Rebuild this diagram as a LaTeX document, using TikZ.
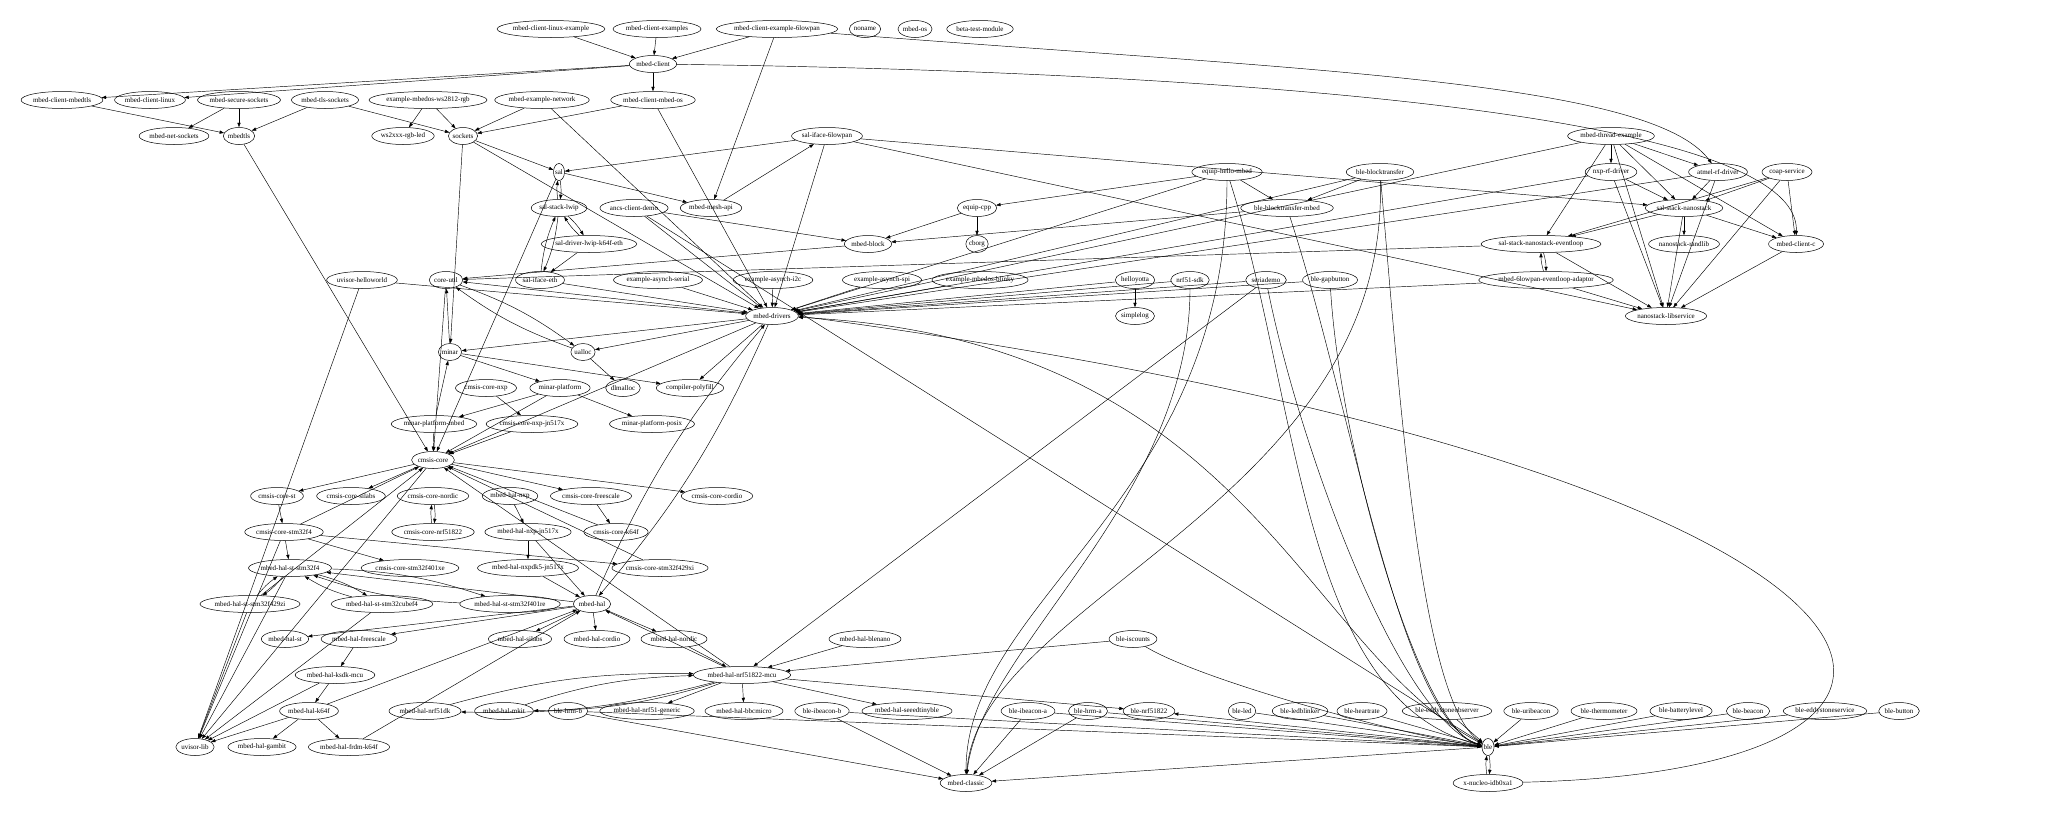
\documentclass[tikz,border=0pt]{standalone}
\usepackage{fontspec}
\setmainfont{Liberation Serif}
\usetikzlibrary{shapes.geometric,arrows.meta}
\begin{document}
\begin{tikzpicture}[x=1pt,y=-1pt,
 n/.style={draw,ellipse,inner xsep=0pt,inner ysep=0pt,minimum height=17pt,font=\fontsize{7}{8}\selectfont,line width=0.5pt},
 e/.style={-{Triangle[length=4.5pt,width=3.2pt]},line width=0.45pt}]
\useasboundingbox (0,0) rectangle (2048,812);
\fill[white] (0,0) rectangle (2048,812);
\node[n] (mcle) at (551,29) {mbed-client-linux-example};
\node[n] (mces) at (657,29) {mbed-client-examples};
\node[n] (mce6) at (777,29) {mbed-client-example-6lowpan};
\node[n] (noname) at (865,29) {noname};
\node[n] (mbedos) at (915,29) {mbed-os};
\node[n] (beta) at (980,29) {beta-test-module};
\node[n] (mc) at (653,64) {mbed-client};
\node[n] (mcmt) at (62,100) {mbed-client-mbedtls};
\node[n] (mcl) at (150,100) {mbed-client-linux};
\node[n] (mss) at (239,100) {mbed-secure-sockets};
\node[n] (mts) at (325,100) {mbed-tls-sockets};
\node[n] (ws) at (428,100) {example-mbedos-ws2812-rgb};
\node[n] (men) at (542,100) {mbed-example-network};
\node[n] (mcmo) at (653,100) {mbed-client-mbed-os};
\node[n] (mns) at (174,136) {mbed-net-sockets};
\node[n] (mbedtls) at (239,136) {mbedtls};
\node[n] (wsled) at (403,136) {ws2xxx-rgb-led};
\node[n] (sockets) at (463,136) {sockets};
\node[n] (si6) at (827,136) {sal-iface-6lowpan};
\node[n] (mte) at (1611,136) {mbed-thread-example};
\node[n] (sal) at (559,172) {sal};
\node[n] (ehm) at (1227,172) {equip-hello-mbed};
\node[n] (bbt) at (1380,172) {ble-blocktransfer};
\node[n] (nxprf) at (1611,172) {nxp-rf-driver};
\node[n] (atmel) at (1718,172) {atmel-rf-driver};
\node[n] (coap) at (1787,172) {coap-service};
\node[n] (ssl) at (559,208) {sal-stack-lwip};
\node[n] (ancs) at (634,208) {ancs-client-demo};
\node[n] (mma) at (711,208) {mbed-mesh-api};
\node[n] (ecpp) at (977,208) {equip-cpp};
\node[n] (bbtm) at (1287,208) {ble-blocktransfer-mbed};
\node[n] (ssn) at (1684,208) {sal-stack-nanostack};
\node[n] (sdl) at (589,244) {sal-driver-lwip-k64f-eth};
\node[n] (mblock) at (868,244) {mbed-block};
\node[n] (cborg) at (977,244) {cborg};
\node[n] (ssne) at (1541,244) {sal-stack-nanostack-eventloop};
\node[n] (nrl) at (1684,244) {nanostack-randlib};
\node[n] (mcc) at (1796,244) {mbed-client-c};
\node[n] (uvh) at (362,280) {uvisor-helloworld};
\node[n] (cu) at (446,280) {core-util};
\node[n] (sie) at (540,280) {sal-iface-eth};
\node[n] (eas) at (658,280) {example-asynch-serial};
\node[n] (eai) at (773,280) {example-asynch-i2c};
\node[n] (easpi) at (882,280) {example-asynch-spi};
\node[n] (emb) at (980,280) {example-mbedos-blinky};
\node[n] (hy) at (1135,280) {helloyotta};
\node[n] (nrfsdk) at (1190,280) {nrf51-sdk};
\node[n] (sd) at (1266,280) {seriademo};
\node[n] (bgb) at (1330,280) {ble-gapbutton};
\node[n] (m6ea) at (1546,280) {mbed-6lowpan-eventloop-adaptor};
\node[n] (md) at (772,316) {mbed-drivers};
\node[n] (slog) at (1135,316) {simplelog};
\node[n] (nls) at (1666,316) {nanostack-libservice};
\node[n] (minar) at (450,352) {minar};
\node[n] (ualloc) at (583,352) {ualloc};
\node[n] (ccnxp) at (486,388) {cmsis-core-nxp};
\node[n] (mp) at (560,388) {minar-platform};
\node[n] (dlm) at (623,388) {dlmalloc};
\node[n] (cpf) at (690,388) {compiler-polyfill};
\node[n] (mpm) at (434,424) {minar-platform-mbed};
\node[n] (ccnj) at (532,424) {cmsis-core-nxp-jn517x};
\node[n] (mpp) at (652,424) {minar-platform-posix};
\node[n] (cc) at (433,460) {cmsis-core};
\node[n] (ccst) at (277,496) {cmsis-core-st};
\node[n] (ccsl) at (351,496) {cmsis-core-silabs};
\node[n] (ccno) at (433,496) {cmsis-core-nordic};
\node[n] (mhnxp) at (510,496) {mbed-hal-nxp};
\node[n] (ccfs) at (591,496) {cmsis-core-freescale};
\node[n] (cccor) at (717,496) {cmsis-core-cordio};
\node[n] (ccf4) at (284,532) {cmsis-core-stm32f4};
\node[n] (ccnrf) at (433,532) {cmsis-core-nrf51822};
\node[n] (mhnj) at (528,532) {mbed-hal-nxp-jn517x};
\node[n] (cck64) at (616,532) {cmsis-core-k64f};
\node[n] (mhsf4) at (290,568) {mbed-hal-st-stm32f4};
\node[n] (cc401) at (410,568) {cmsis-core-stm32f401xe};
\node[n] (mhdk5) at (528,568) {mbed-hal-nxpdk5-jn517x};
\node[n] (cc429) at (660,568) {cmsis-core-stm32f429xi};
\node[n] (mh429) at (250,604) {mbed-hal-st-stm32f429zi};
\node[n] (mhcube) at (382,604) {mbed-hal-st-stm32cubef4};
\node[n] (mh401) at (510,604) {mbed-hal-st-stm32f401re};
\node[n] (mh) at (592,604) {mbed-hal};
\node[n] (mhst) at (285,639) {mbed-hal-st};
\node[n] (mhfs) at (359,639) {mbed-hal-freescale};
\node[n] (mhsil) at (520,639) {mbed-hal-silabs};
\node[n] (mhcor) at (597,639) {mbed-hal-cordio};
\node[n] (mhnor) at (674,639) {mbed-hal-nordic};
\node[n] (mhbn) at (865,639) {mbed-hal-blenano};
\node[n] (bisc) at (1133,639) {ble-iscounts};
\node[n] (mhks) at (335,675) {mbed-hal-ksdk-mcu};
\node[n] (mhmcu) at (742,675) {mbed-hal-nrf51822-mcu};
\node[n] (mhk64) at (309,711) {mbed-hal-k64f};
\node[n] (mhdk) at (425,711) {mbed-hal-nrf51dk};
\node[n] (mhmk) at (504,711) {mbed-hal-mkit};
\node[n] (bhrmb) at (568,711) {ble-hrm-b};
\node[n] (mhgen) at (647,711) {mbed-hal-nrf51-generic};
\node[n] (mhbbc) at (744,711) {mbed-hal-bbcmicro};
\node[n] (bibb) at (822,711) {ble-ibeacon-b};
\node[n] (mhsee) at (907,711) {mbed-hal-seeedtinyble};
\node[n] (biba) at (1028,711) {ble-ibeacon-a};
\node[n] (bhrma) at (1088,711) {ble-hrm-a};
\node[n] (bnrf) at (1149,711) {ble-nrf51822};
\node[n] (bled) at (1242,711) {ble-led};
\node[n] (blb) at (1300,711) {ble-ledblinker};
\node[n] (bhr) at (1362,711) {ble-heartrate};
\node[n] (beo) at (1447,711) {ble-eddystoneobserver};
\node[n] (bub) at (1531,711) {ble-uribeacon};
\node[n] (bth) at (1604,711) {ble-thermometer};
\node[n] (bbl) at (1681,711) {ble-batterylevel};
\node[n] (bbe) at (1748,711) {ble-beacon};
\node[n] (bes) at (1825,711) {ble-eddystoneservice};
\node[n] (bbu) at (1899,711) {ble-button};
\node[n] (uvl) at (195,747) {uvisor-lib};
\node[n] (mhgam) at (262,747) {mbed-hal-gambit};
\node[n] (mhfrdm) at (349,747) {mbed-hal-frdm-k64f};
\node[n] (ble) at (1488,747) {ble};
\node[n] (mcl2) at (966,783) {mbed-classic};
\node[n] (xn) at (1488,783) {x-nucleo-idb0xa1};
\foreach \a/\b in {mcle/mc,mces/mc,mce6/mc,mce6/mma,mc/mcmt,mc/mcl,mc/mcmo,
 mcmt/mbedtls,mss/mns,mss/mbedtls,mts/mbedtls,mts/sockets,ws/wsled,ws/sockets,
 men/sockets,mcmo/sockets,sockets/sal,sockets/md,men/md,mcmo/md,sal/mma,
 mma/si6,si6/sal,si6/md,si6/ssn,si6/nls,sdl/sie,sie/md,
 ancs/md,ancs/mblock,ehm/ecpp,ehm/bbtm,ehm/md,ecpp/mblock,ecpp/cborg,bbt/bbtm,bbt/md,
 bbtm/mblock,mblock/cu,mte/nxprf,mte/atmel,mte/ssn,mte/ssne,mte/nls,mte/mcc,mte/md,
 nxprf/ssn,nxprf/nls,nxprf/md,atmel/ssn,atmel/nls,atmel/md,coap/ssn,coap/mcc,coap/ssne,coap/nls,
 ssn/ssne,ssn/nrl,ssn/mcc,ssn/nls,ssne/nls,ssne/cu,m6ea/nls,m6ea/md,mcc/nls,
 hy/slog,hy/md,nrfsdk/md,sd/md,bgb/md,eas/md,eai/md,easpi/md,emb/md,uvh/md,uvh/uvl,
 md/minar,md/ualloc,md/cpf,md/cc,md/cu,minar/cu,ualloc/dlm,
 minar/mp,minar/cpf,mp/mpm,mp/mpp,mp/cc,mpm/minar,mpm/cc,ccnxp/ccnj,ccnj/cc,cu/cc,
 cc/ccst,cc/ccsl,cc/ccfs,cc/cccor,cc/uvl,
 ccst/ccf4,ccf4/mhsf4,ccf4/cc401,ccf4/cc429,ccf4/uvl,ccf4/cc,ccfs/cck64,cck64/cc,cc429/cc,
 mhnxp/mhnj,mhnj/mhdk5,mhnj/mh,mhdk5/mh,
 mh/mhsf4,mhsf4/uvl,mh429/uvl,mh429/cc,mhcube/uvl,
 mh/mhst,mh/mhfs,mh/mhsil,mh/mhcor,mh/mhnor,mhfs/mhks,mhks/mhk64,mhks/uvl,
 mhk64/uvl,mhk64/mhgam,mhk64/mhfrdm,mhk64/mh,mhfrdm/mh,mhnor/mhmcu,mhbn/mhmcu,
 mhmcu/mhgen,mhmcu/mhbbc,mhmcu/mhsee,mhmcu/bnrf,
 mhmcu/cc,mhmcu/mh,bisc/mhmcu,sd/mhmcu,bhrmb/ble,bhrmb/mcl2,bibb/ble,bibb/mcl2,
 biba/mcl2,biba/ble,bhrma/mcl2,bhrma/ble,ble/bnrf,bled/ble,blb/ble,bhr/ble,beo/ble,bub/ble,
 bth/ble,bbl/ble,bbe/ble,bes/ble,bbu/ble,ble/mcl2,
 mbedtls/cc,sockets/minar,sal/cc,ancs/ble}
 {\draw[e] (\a) -- (\b);}
\foreach \a/\b in {sal/ssl,ssl/sdl,ssl/sie,cu/ualloc,md/mh,ccno/ccnrf,mhsf4/mh429,mhsf4/mhcube,
 mhsf4/mh401,mhmcu/mhdk,mhmcu/mhmk,ble/xn,ssne/m6ea}
 {\draw[e] (\a) to[bend left=8] (\b); \draw[e] (\b) to[bend left=8] (\a);}
\draw[e] (mc) .. controls (1100,70) and (1800,100) .. (mcc);
\draw[e] (mce6) .. controls (1300,70) and (1650,80) .. (atmel);
\draw[e] (ehm) .. controls (1227,500) and (966,600) .. (mcl2);
\draw[e] (bbt) .. controls (1390,500) and (980,600) .. (mcl2);
\draw[e] (nrfsdk) .. controls (1190,500) and (980,650) .. (mcl2);
\draw[e] (ehm) .. controls (1300,400) and (1300,700) .. (ble);
\draw[e] (bbt) .. controls (1400,400) and (1420,700) .. (ble);
\draw[e] (bbtm) .. controls (1350,400) and (1400,720) .. (ble);
\draw[e] (sd) .. controls (1300,450) and (1400,720) .. (ble);
\draw[e] (bgb) .. controls (1340,450) and (1420,730) .. (ble);
\draw[e] (bisc) .. controls (1200,680) and (1400,735) .. (ble);
\draw[e] (ble) .. controls (1300,650) and (1250,340) .. (md);
\draw[e] (xn) .. controls (2060,770) and (1950,470) .. (md.east);
\end{tikzpicture}
\end{document}
